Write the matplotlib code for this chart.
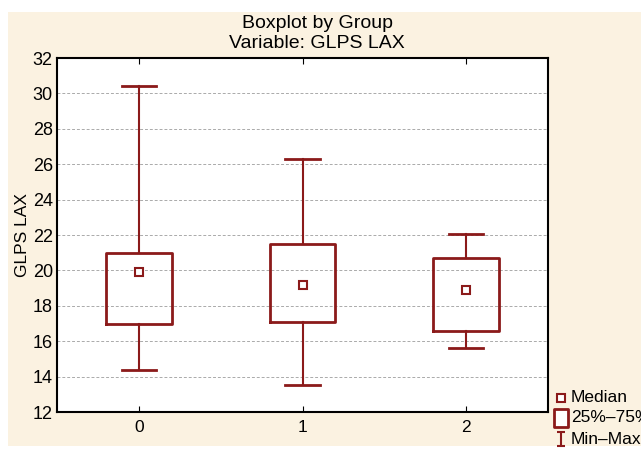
import matplotlib
matplotlib.use("Agg")
import matplotlib.pyplot as plt
from matplotlib.patches import Rectangle
from matplotlib.path import Path
from matplotlib.lines import Line2D

plt.rcParams['font.family'] = ['Liberation Sans', 'DejaVu Sans']

groups = ["0", "1", "2"]
mins = [14.4, 13.5, 15.6]
q1 = [17.0, 17.1, 16.6]
medians = [19.9, 19.2, 18.9]
q3 = [21.0, 21.5, 20.7]
maxs = [30.4, 26.3, 22.05]

red = "#8b1a1a"
cream = "#fbf2e1"

fig = plt.figure(figsize=(6.41, 4.51), dpi=100, facecolor="white")
fig.patches.append(Rectangle((8 / 641, 5 / 451), 1, (446 - 12) / 451,
                             transform=fig.transFigure, facecolor=cream,
                             edgecolor="none", zorder=-10))

ax = fig.add_axes([57 / 641, 39 / 451, 491 / 641, 354 / 451])
ax.set_facecolor("white")

stats = []
for i in range(len(groups)):
    stats.append(dict(med=medians[i], q1=q1[i], q3=q3[i],
                      whislo=mins[i], whishi=maxs[i], fliers=[]))
pos = list(range(len(groups)))
ax.bxp(stats, positions=pos, widths=0.4, showfliers=False,
       boxprops=dict(color=red, linewidth=2),
       whiskerprops=dict(color=red, linewidth=1.5),
       capprops=dict(color=red, linewidth=2),
       medianprops=dict(linewidth=0),
       capwidths=0.21)
ax.plot(pos, medians, linestyle="none", marker="s", markersize=6,
        markerfacecolor="white", markeredgecolor=red, markeredgewidth=1.5)

ax.set_xlim(-0.5, 2.5)
ax.set_ylim(12, 32)
ax.set_yticks(range(12, 33, 2))
ax.set_xticks(pos)
ax.set_xticklabels(groups)
ax.tick_params(axis="x", direction="in", top=True, length=4, labelsize=12.5, pad=6)
ax.tick_params(axis="y", direction="in", length=0, labelsize=13, pad=3)
ax.yaxis.grid(True, color="#aaaaaa", linestyle=(0, (3, 2)), linewidth=0.7)
ax.set_axisbelow(True)
for s in ax.spines.values():
    s.set_linewidth(1.5)
    s.set_color("black")

ax.set_ylabel("GLPS LAX", fontsize=12.5, labelpad=2)
fig.text(317 / 641, 1 - 23 / 451, "Boxplot by Group", ha="center", va="center", fontsize=14)
fig.text(317 / 641, 1 - 43 / 451, "Variable: GLPS LAX", ha="center", va="center", fontsize=14)

# legend
ibeam = Path([(-0.3, -0.5), (0.3, -0.5), (0, -0.5), (0, 0.5), (-0.3, 0.5), (0.3, 0.5)],
             [Path.MOVETO, Path.LINETO, Path.MOVETO, Path.LINETO, Path.MOVETO, Path.LINETO])
tallbox = Path([(-0.38, -0.5), (0.38, -0.5), (0.38, 0.5), (-0.38, 0.5), (-0.38, -0.5)],
               [Path.MOVETO, Path.LINETO, Path.LINETO, Path.LINETO, Path.CLOSEPOLY])
lg = [("Median", "s", 5.5, 398, 1.5), ("25%–75%", tallbox, 13, 418, 2), ("Min–Max", ibeam, 10, 439, 1.5)]
for label, mk, ms, y, lw in lg:
    yf = 1 - y / 451
    fig.add_artist(Line2D([561 / 641], [yf], marker=mk, markersize=ms,
                          markerfacecolor="white", markeredgecolor=red,
                          markeredgewidth=lw, linestyle="none",
                          transform=fig.transFigure))
    fig.text(571 / 641, yf, label, ha="left", va="center", fontsize=12.5)

fig.savefig("out.png", dpi=100)
